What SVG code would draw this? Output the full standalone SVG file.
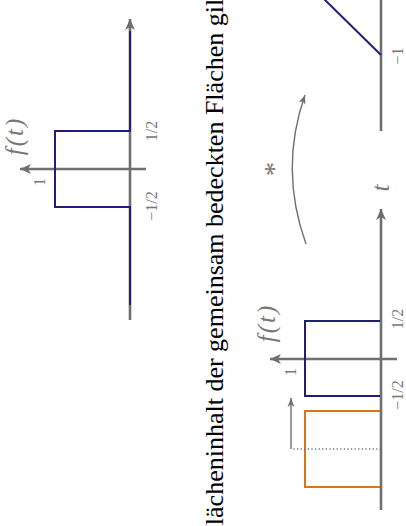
<svg xmlns="http://www.w3.org/2000/svg" width="406" height="526" viewBox="0 0 406 526">
<style>
.ax{stroke:#6f6f6f;stroke-width:2.6;fill:none}
.blue{stroke:#1f1f78;stroke-width:2;fill:none}
.orng{stroke:#d9761a;stroke-width:2;fill:none}
.thin{stroke:#6f6f6f;stroke-width:1.4;fill:none}
.lbl{font-family:'Liberation Serif',serif;font-size:16px;fill:#777}
.math{font-family:'Liberation Serif',serif;font-style:italic;font-size:25px;fill:#777}
.main{font-family:'Liberation Serif',serif;font-size:26px;fill:#000}
</style>
<defs>
<marker id="ah" markerWidth="12" markerHeight="10" refX="11" refY="5" orient="auto" markerUnits="userSpaceOnUse">
<path d="M0,0 L11,5 L0,10 L3,5 Z" fill="#6f6f6f"/>
</marker>
<marker id="ahs" markerWidth="10" markerHeight="8" refX="9" refY="4" orient="auto" markerUnits="userSpaceOnUse">
<path d="M0,0.5 L9,4 L0,7.5 L2.5,4 Z" fill="#6f6f6f"/>
</marker>
</defs>

<g id="caption">
<text class="main" transform="translate(223,262) rotate(-90)" text-anchor="middle">lächeninhalt der gemeinsam bedeckten Flächen gil</text>
</g>

<g id="plot-top">
<line class="ax" x1="130" y1="320" x2="130" y2="19" marker-end="url(#ah)"/>
<line class="ax" x1="146" y1="169" x2="20" y2="169" marker-end="url(#ah)"/>
<polyline class="blue" points="130,305 130,207 55,207 55,131 130,131 130,31"/>
<text class="math" transform="translate(138,-4) rotate(-90)" text-anchor="middle">t</text>
<text class="math" transform="translate(23,136) rotate(-90)" text-anchor="middle" letter-spacing="2">f(t)</text>
<text class="lbl" transform="translate(45,182) rotate(-90)" text-anchor="middle">1</text>
<text class="lbl" transform="translate(157,131) rotate(-90)" text-anchor="middle">1/2</text>
<text class="lbl" transform="translate(157,206) rotate(-90)" text-anchor="middle">−1/2</text>
</g>

<g id="plot-bottom">
<line class="ax" x1="381" y1="510" x2="381" y2="209" marker-end="url(#ah)"/>
<line class="ax" x1="397" y1="359" x2="270" y2="359" marker-end="url(#ah)"/>
<polyline class="blue" points="380,321 305,321 305,396 380,396"/>
<polyline class="orng" points="380,411 305,411 305,487 380,487"/>
<text class="math" transform="translate(389,188) rotate(-90)" text-anchor="middle">t</text>
<text class="math" transform="translate(275,323) rotate(-90)" text-anchor="middle" letter-spacing="2">f(t)</text>
<text class="lbl" transform="translate(296,372) rotate(-90)" text-anchor="middle">1</text>
<text class="lbl" transform="translate(403,319) rotate(-90)" text-anchor="middle">1/2</text>
<text class="lbl" transform="translate(403,395) rotate(-90)" text-anchor="middle">−1/2</text>
</g>

<g id="plot-result">
<line class="ax" x1="381" y1="0" x2="381" y2="131"/>
<line class="blue" x1="381" y1="55" x2="324" y2="-1"/>
<text class="lbl" transform="translate(403,56) rotate(-90)" text-anchor="middle">−1</text>
</g>

<g id="operator">
<text transform="translate(283,169) rotate(-90)" text-anchor="middle" style="font-family:'Liberation Serif',serif;font-size:28px;fill:#777">*</text>
</g>

<g id="connectors">
<path class="thin" d="M306,244 Q279,169 305,95" marker-end="url(#ahs)"/>
<line class="thin" x1="381" y1="449" x2="291" y2="449" stroke-dasharray="1.2,2.4"/>
<line class="thin" x1="291" y1="449" x2="291" y2="398" marker-end="url(#ahs)"/>
</g>
</svg>
